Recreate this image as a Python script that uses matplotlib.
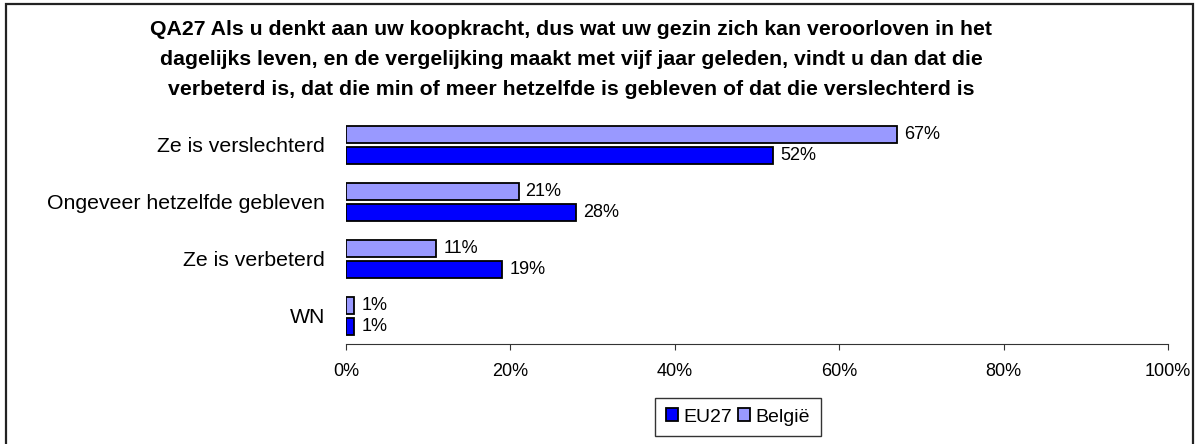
import matplotlib
matplotlib.use("Agg")
import matplotlib.pyplot as plt
import numpy as np

plt.rcParams['font.family'] = ['Liberation Sans', 'DejaVu Sans']

categories = ["Ze is verslechterd", "Ongeveer hetzelfde gebleven", "Ze is verbeterd", "WN"]
eu27 = [52, 28, 19, 1]
belgie = [67, 21, 11, 1]
xticks = [0, 20, 40, 60, 80, 100]
title = ("QA27 Als u denkt aan uw koopkracht, dus wat uw gezin zich kan veroorloven in het\n"
         "dagelijks leven, en de vergelijking maakt met vijf jaar geleden, vindt u dan dat die\n"
         "verbeterd is, dat die min of meer hetzelfde is gebleven of dat die verslechterd is")

W, H = 1197, 444
fig = plt.figure(figsize=(W/100, H/100), dpi=100)
ax = fig.add_axes([346/W, 1-344/H, (1168-346)/W, (344-116.5)/H])

y = np.arange(len(categories))
bh = 0.30
gap = 0.07
b1 = ax.barh(y - (bh/2 + gap/2), belgie, height=bh, color="#9999FF", edgecolor="black", linewidth=1.3, label="België")
b2 = ax.barh(y + (bh/2 + gap/2), eu27, height=bh, color="#0000FF", edgecolor="black", linewidth=1.3, label="EU27")
for bars, vals in ((b1, belgie), (b2, eu27)):
    for r, v in zip(bars, vals):
        ax.text(v + 0.85, r.get_y() + r.get_height()/2, f"{v}%", va="center", ha="left", fontsize=13)

ax.set_ylim(len(categories) - 0.5, -0.5)
ax.set_xlim(0, 100)
ax.set_yticks(y)
ax.set_yticklabels(categories, fontsize=15.3)
ax.tick_params(axis="y", length=0, pad=15)
ax.set_xticks(xticks)
ax.set_xticklabels([f"{t}%" for t in xticks], fontsize=13)
ax.tick_params(axis="x", direction="out", length=4, pad=10, color="#333333")
for s in ("top", "right", "left"):
    ax.spines[s].set_visible(False)
ax.spines["bottom"].set_color("#333333")

fig.text(571/W, 1-20/H, title, ha="center", va="top", fontsize=15.3, fontweight="bold", linespacing=1.72)

handles = [b2, b1]
leg = fig.legend(handles, ["EU27", "België"], loc="center", bbox_to_anchor=(738/W, 1-417/H),
                 ncol=2, frameon=True, fontsize=14, handlelength=0.6, handleheight=0.6,
                 handletextpad=0.3, columnspacing=0.3, borderpad=0.55, fancybox=False)
leg.get_frame().set_edgecolor("black")
leg.get_frame().set_linewidth(1)

fig.patches.append(plt.Rectangle((6/W, -0.05), (1193-6)/W, 1.05-4/H, transform=fig.transFigure,
                                 fill=False, edgecolor="#222222", linewidth=1.6))

fig.savefig("out.png", dpi=100)
